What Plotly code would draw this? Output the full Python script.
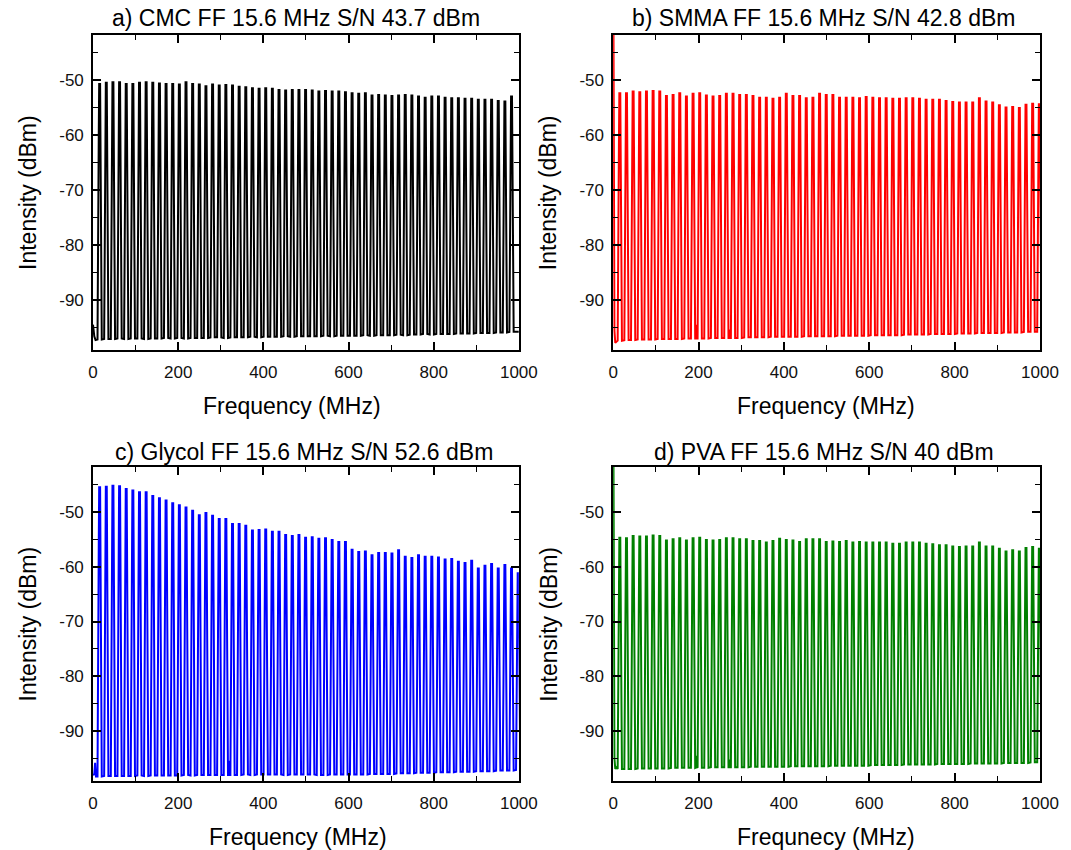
import plotly.graph_objects as go

# ---------------- data ----------------
# comb line positions (MHz), FF = 15.6 MHz
PEAK_FREQ = [15.6, 31.2, 46.8, 62.4, 78.0, 93.6, 109.2, 124.8, 140.4, 156.0,
             171.6, 187.2, 202.8, 218.4, 234.0, 249.6, 265.2, 280.8, 296.4, 312.0,
             327.6, 343.2, 358.8, 374.4, 390.0, 405.6, 421.2, 436.8, 452.4, 468.0,
             483.6, 499.2, 514.8, 530.4, 546.0, 561.6, 577.2, 592.8, 608.4, 624.0,
             639.6, 655.2, 670.8, 686.4, 702.0, 717.6, 733.2, 748.8, 764.4, 780.0,
             795.6, 811.2, 826.8, 842.4, 858.0, 873.6, 889.2, 904.8, 920.4, 936.0,
             951.6, 967.2, 982.8, 998.4]

# peak levels (dBm)
PEAK_A = [-50.7, -50.5, -50.4, -50.4, -50.7, -50.7, -50.5, -50.4, -50.5, -50.6,
          -50.7, -50.7, -50.8, -50.4, -50.7, -50.8, -51.1, -50.8, -51.0, -50.9,
          -51.0, -51.2, -51.3, -51.5, -51.6, -51.5, -51.6, -51.8, -51.9, -51.8,
          -51.8, -51.8, -51.9, -52.1, -52.0, -52.1, -52.1, -52.2, -52.4, -52.5,
          -52.4, -52.8, -52.7, -52.8, -52.9, -52.8, -52.7, -52.8, -53.0, -53.2,
          -53.0, -53.0, -53.2, -53.3, -53.3, -53.4, -53.4, -53.6, -53.6, -53.6,
          -53.8, -53.9, -53.0]
PEAK_B = [-52.4, -52.4, -52.1, -52.2, -52.1, -52.0, -52.1, -52.9, -52.7, -52.4,
          -53.0, -52.5, -52.4, -52.8, -53.0, -52.9, -52.5, -52.5, -52.7, -52.7,
          -52.9, -53.2, -53.2, -53.4, -53.2, -52.5, -52.9, -52.9, -53.3, -53.2,
          -52.5, -52.7, -52.7, -53.2, -53.2, -53.2, -53.3, -53.1, -53.2, -53.3,
          -53.3, -53.4, -53.4, -53.3, -53.3, -53.4, -53.6, -53.6, -53.6, -53.8,
          -54.0, -54.1, -54.1, -54.1, -53.3, -53.9, -54.1, -54.6, -55.0, -54.9,
          -55.1, -54.5, -54.3, -54.4]
PEAK_C = [-45.5, -45.4, -45.2, -45.3, -45.8, -46.1, -46.4, -46.4, -47.1, -47.5,
          -47.9, -48.4, -48.8, -49.2, -49.8, -50.6, -50.2, -50.7, -51.3, -51.3,
          -52.2, -52.2, -52.5, -53.4, -53.3, -53.2, -53.6, -53.6, -54.2, -54.4,
          -54.2, -54.7, -54.6, -54.9, -54.8, -55.1, -55.5, -55.5, -56.9, -57.3,
          -57.2, -57.9, -57.5, -57.5, -57.6, -57.0, -58.2, -58.4, -57.9, -58.2,
          -58.2, -58.3, -58.7, -58.6, -59.1, -59.3, -58.9, -60.3, -59.8, -59.5,
          -60.3, -59.7, -60.3, -61.2]
PEAK_D = [-54.7, -54.8, -54.4, -54.5, -54.5, -54.3, -54.4, -55.2, -55.0, -54.8,
          -55.2, -54.8, -54.7, -55.1, -55.2, -55.1, -54.8, -54.8, -55.0, -55.0,
          -55.3, -55.3, -55.6, -55.3, -54.9, -55.1, -55.2, -55.5, -55.0, -55.0,
          -55.0, -55.5, -55.4, -55.5, -55.3, -55.6, -55.5, -55.6, -55.6, -55.6,
          -55.6, -55.8, -55.8, -55.6, -55.6, -55.6, -55.8, -55.9, -56.1, -56.1,
          -56.3, -56.4, -56.3, -56.3, -55.6, -56.3, -56.3, -56.7, -57.2, -57.0,
          -57.2, -56.6, -56.4, -56.7]

# noise floor next to each comb line (dBm)
FLOOR_A = [-97.2, -97.1, -97.1, -97.0, -97.1, -97.0, -97.0, -97.1, -97.0, -97.0,
           -96.9, -97.0, -96.9, -97.0, -96.9, -96.9, -96.9, -96.8, -96.8, -96.9,
           -96.8, -96.8, -96.8, -96.7, -96.8, -96.7, -96.7, -96.7, -96.6, -96.7,
           -96.6, -96.6, -96.6, -96.6, -96.5, -96.6, -96.5, -96.5, -96.5, -96.5,
           -96.4, -96.5, -96.4, -96.4, -96.4, -96.3, -96.4, -96.3, -96.3, -96.2,
           -96.3, -96.2, -96.2, -96.2, -96.1, -96.1, -96.1, -96.0, -96.0, -96.0,
           -95.9, -95.9, -95.8]
FLOOR_B = [-97.4, -97.3, -97.3, -97.2, -97.2, -97.2, -97.1, -97.1, -97.1, -97.1,
           -97.0, -97.0, -97.0, -97.0, -96.9, -96.9, -96.9, -96.9, -96.9, -96.8,
           -96.8, -96.8, -96.8, -96.7, -96.7, -96.7, -96.7, -96.7, -96.6, -96.6,
           -96.6, -96.6, -96.6, -96.5, -96.5, -96.5, -96.5, -96.5, -96.4, -96.4,
           -96.4, -96.4, -96.4, -96.3, -96.3, -96.3, -96.3, -96.2, -96.2, -96.2,
           -96.2, -96.1, -96.1, -96.1, -96.0, -96.0, -96.0, -96.0, -95.9, -95.9,
           -95.9, -95.8, -95.8, -95.8]
FLOOR_C = [-98.3, -98.2, -98.2, -98.2, -98.2, -98.2, -98.1, -98.2, -98.1, -98.1,
           -98.1, -98.1, -98.1, -98.0, -98.1, -98.0, -98.0, -98.0, -98.0, -98.0,
           -98.0, -98.0, -97.9, -98.0, -97.9, -97.9, -97.9, -97.9, -98.0, -97.9,
           -97.9, -97.9, -97.9, -98.0, -98.0, -97.9, -97.9, -97.9, -97.9, -97.9,
           -97.9, -97.8, -97.8, -97.8, -97.8, -97.7, -97.7, -97.7, -97.6, -97.6,
           -97.6, -97.5, -97.5, -97.5, -97.4, -97.4, -97.4, -97.3, -97.3, -97.3,
           -97.2, -97.2, -97.2, -97.1]
FLOOR_D = [-96.9, -96.9, -96.9, -96.8, -96.8, -96.8, -96.8, -96.8, -96.7, -96.7,
           -96.7, -96.7, -96.7, -96.7, -96.6, -96.6, -96.6, -96.6, -96.6, -96.6,
           -96.5, -96.5, -96.5, -96.5, -96.5, -96.5, -96.4, -96.4, -96.4, -96.4,
           -96.4, -96.4, -96.3, -96.3, -96.3, -96.3, -96.3, -96.3, -96.2, -96.2,
           -96.2, -96.2, -96.2, -96.1, -96.1, -96.1, -96.1, -96.1, -96.0, -96.0,
           -96.0, -96.0, -96.0, -95.9, -95.9, -95.9, -95.9, -95.9, -95.8, -95.8,
           -95.8, -95.8, -95.7, -95.7]

# low-frequency start of each trace (MHz, dBm)
LEAD_A_X, LEAD_A_Y = [0, 3, 6], [-94.5, -96.6, -97.3]
LEAD_B_X, LEAD_B_Y = [0.8, 1.8, 3, 5, 7], [-41.0, -94.8, -95.6, -97.8, -97.6]
LEAD_C_X, LEAD_C_Y = [0, 3, 5, 7, 9], [-97.8, -98.0, -95.8, -98.3, -98.3]
LEAD_D_X, LEAD_D_Y = [0.8, 1.8, 3, 5, 7], [-41.0, -94.5, -95.0, -96.9, -96.6]
# end of trace
TAIL_A_X, TAIL_A_Y = [1000], [-95.8]

# small spurious spurs (MHz, top dBm, base dBm)
SPUR_B = [(195.5, -94.5, -97.0), (273.0, -95.4, -96.9)]
SPUR_C = [(320.5, -95.4, -98.0)]
SPUR_D = [(195.5, -94.5, -96.6), (273.0, -95.2, -96.6)]

TITLES = ["a) CMC FF 15.6 MHz S/N 43.7 dBm", "b) SMMA FF 15.6 MHz S/N 42.8 dBm",
          "c) Glycol FF 15.6 MHz S/N 52.6 dBm", "d) PVA FF 15.6 MHz S/N 40 dBm"]
X_TITLES = ["Frequency (MHz)", "Frequency (MHz)", "Frequency (MHz)", "Frequnecy (MHz)"]
Y_TITLE = "Intensity (dBm)"
COLORS = ["#000000", "#ff0000", "#0000ff", "#008000"]
X_TICKS = [0, 200, 400, 600, 800, 1000]
Y_TICKS = [-50, -60, -70, -80, -90]
Y_TICK_TEXT = ["-50", "-60", "-70", "-80", "-90"]

# ---------------- spike drawing template (style) ----------------
SPIKE_DX = [-5.0, -2.0, -1.1, 1.1, 2.0, 5.0]
SPIKE_FRAC = [0.0, 0.82, 1.0, 1.0, 0.82, 0.0]
SPUR_DX = [-0.8, 0.0, 0.8]


def build(lead_x, lead_y, peaks, floors, spurs, tail_x=(), tail_y=()):
    events = []
    for f, p, fl in zip(PEAK_FREQ, peaks, floors):
        pts = [(f + dx, fl + fr * (p - fl)) for dx, fr in zip(SPIKE_DX, SPIKE_FRAC)]
        events.append((f, pts))
    for f, top, base in spurs:
        pts = [(f + SPUR_DX[0], base), (f + SPUR_DX[1], top), (f + SPUR_DX[2], base)]
        events.append((f, pts))
    events.sort(key=lambda e: e[0])
    xs, ys = list(lead_x), list(lead_y)
    for _, pts in events:
        for x, y in pts:
            xs.append(x)
            ys.append(y)
    xs += list(tail_x)
    ys += list(tail_y)
    return xs, ys


panels = [
    build(LEAD_A_X, LEAD_A_Y, PEAK_A, FLOOR_A, [], TAIL_A_X, TAIL_A_Y),
    build(LEAD_B_X, LEAD_B_Y, PEAK_B, FLOOR_B, SPUR_B),
    build(LEAD_C_X, LEAD_C_Y, PEAK_C, FLOOR_C, SPUR_C),
    build(LEAD_D_X, LEAD_D_Y, PEAK_D, FLOOR_D, SPUR_D),
]

# ---------------- layout geometry ----------------
W, H = 1071, 850
ML, MR, MT, MB = 93, 24, 35, 69
PW, PH = W - ML - MR, H - MT - MB


def px_x(px):
    return (px - ML) / PW


def px_y(py):
    return (H - MB - py) / PH


X_DOMAINS = [[px_x(93), px_x(522)], [px_x(617), px_x(1047)]]
Y_DOMAINS = [[px_y(350), px_y(35)], [px_y(781), px_y(467)]]

FONT = "Arial, Liberation Sans, sans-serif"
fig = go.Figure()

axis_common = dict(
    showline=True, linecolor="black", linewidth=1.6, mirror="ticks",
    ticks="inside", ticklen=8, tickwidth=1.6, tickcolor="black",
    showgrid=False, zeroline=False,
    tickfont=dict(family=FONT, size=17, color="#111111"),
)

for i, (xs, ys) in enumerate(panels):
    r, c = divmod(i, 2)
    sfx = "" if i == 0 else str(i + 1)
    fig.add_trace(go.Scatter(x=xs, y=ys, mode="lines",
                             line=dict(color=COLORS[i], width=2.0),
                             xaxis="x" + sfx, yaxis="y" + sfx,
                             showlegend=False, hoverinfo="skip"))
    fig.layout["xaxis" + sfx] = dict(
        axis_common, domain=X_DOMAINS[c], anchor="y" + sfx,
        range=[0, 1000], tickvals=X_TICKS,
        minor=dict(ticks="inside", ticklen=5, tickwidth=1.3, tickcolor="black", dtick=100, tick0=0),
        ticklabelstandoff=6,
    )
    fig.layout["yaxis" + sfx] = dict(
        axis_common, domain=Y_DOMAINS[r], anchor="x" + sfx,
        range=[-99.1, -41.8], tickvals=Y_TICKS, ticktext=Y_TICK_TEXT,
        minor=dict(ticks="inside", ticklen=5, tickwidth=1.3, tickcolor="black", dtick=5, tick0=-50),
        ticklabelstandoff=4,
    )

ann = []
title_cx = [297, 829, 306, 829]
xtitle_cx = [293, 831, 300, 831]
for i in range(4):
    r, c = divmod(i, 2)
    top = 35 if r == 0 else 467
    bot = 350 if r == 0 else 781
    left = 93 if c == 0 else 617
    ann.append(dict(text=TITLES[i], x=px_x(title_cx[i]), y=px_y(top - 17 if r == 0 else top - 15),
                    xref="paper", yref="paper", showarrow=False,
                    font=dict(family=FONT, size=23, color="black"),
                    xanchor="center", yanchor="middle"))
    ann.append(dict(text=X_TITLES[i], x=px_x(xtitle_cx[i]), y=px_y(bot + 56),
                    xref="paper", yref="paper", showarrow=False,
                    font=dict(family=FONT, size=23, color="black"),
                    xanchor="center", yanchor="middle"))
    ann.append(dict(text=Y_TITLE, x=px_x(left - 65), y=px_y((top + bot) / 2),
                    xref="paper", yref="paper", showarrow=False, textangle=-90,
                    font=dict(family=FONT, size=23, color="black"),
                    xanchor="center", yanchor="middle"))

fig.update_layout(
    width=W, height=H,
    margin=dict(l=ML, r=MR, t=MT, b=MB),
    paper_bgcolor="white", plot_bgcolor="white",
    annotations=ann,
    showlegend=False,
)

fig.write_html("out.html")
